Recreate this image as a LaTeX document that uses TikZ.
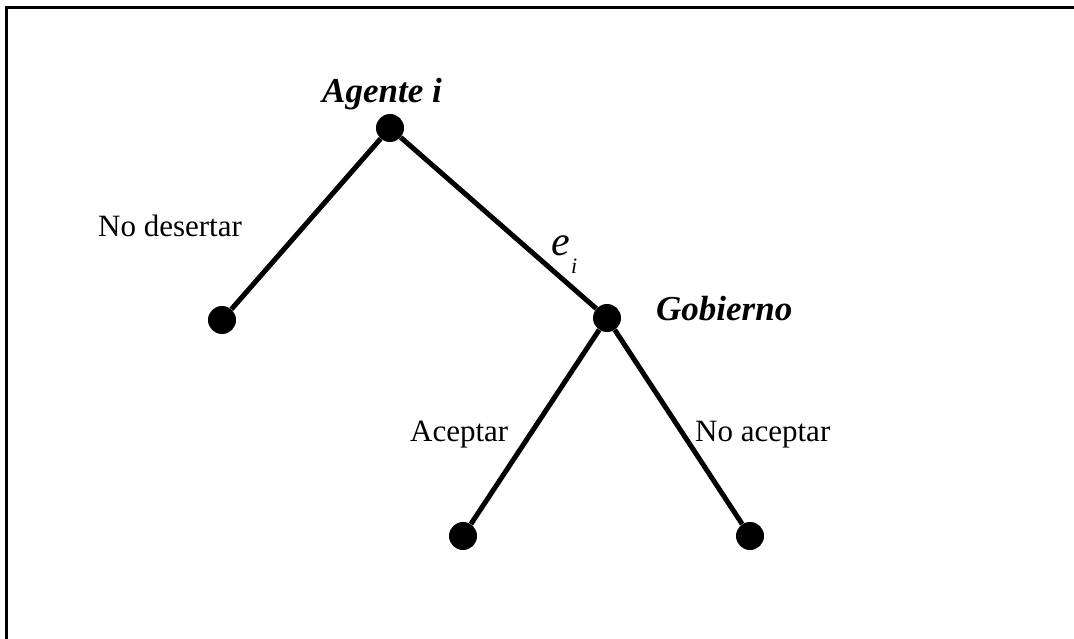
\documentclass[tikz,border=0pt]{standalone}
\usepackage{fontspec}
\setmainfont{Liberation Serif}
\begin{document}
\begin{tikzpicture}[x=1pt,y=-1pt,
  dot/.style={circle,fill=black,inner sep=0pt,minimum size=28pt},
  edge/.style={line width=5pt},
  lbl/.style={anchor=base west,inner sep=0pt,font=\fontsize{31}{36}\selectfont},
  player/.style={anchor=base west,inner sep=0pt,font=\fontsize{35}{40}\selectfont\bfseries\itshape}]
\useasboundingbox (0,0) rectangle (1074,639);
\draw[line width=3pt] (6.5,639) -- (6.5,7.5) -- (1074,7.5);
\node[dot] (a) at (390,128) {};
\node[dot] (l) at (222,320) {};
\node[dot] (g) at (607,318) {};
\node[dot] (ac) at (463,536) {};
\node[dot] (na) at (750,536) {};
\draw[edge] (a) -- (l);
\draw[edge] (a) -- (g);
\draw[edge] (g) -- (ac);
\draw[edge] (g) -- (na);
\node[player] (ta) at (322,103) {Agente i};
\node[player] (tg) at (656,320) {Gobierno};
\node[lbl] (tnd) at (98,237) {No desertar};
\node[lbl] (tac) at (410,441) {Aceptar};
\node[lbl] (tna) at (695,441) {No aceptar};
\node[anchor=base west,inner sep=0pt,font=\fontsize{42}{46}\selectfont\itshape] (te) at (551,255) {e};
\node[anchor=base west,inner sep=0pt,font=\fontsize{22}{26}\selectfont\itshape] (ti) at (571,273) {i};
\end{tikzpicture}
\end{document}
